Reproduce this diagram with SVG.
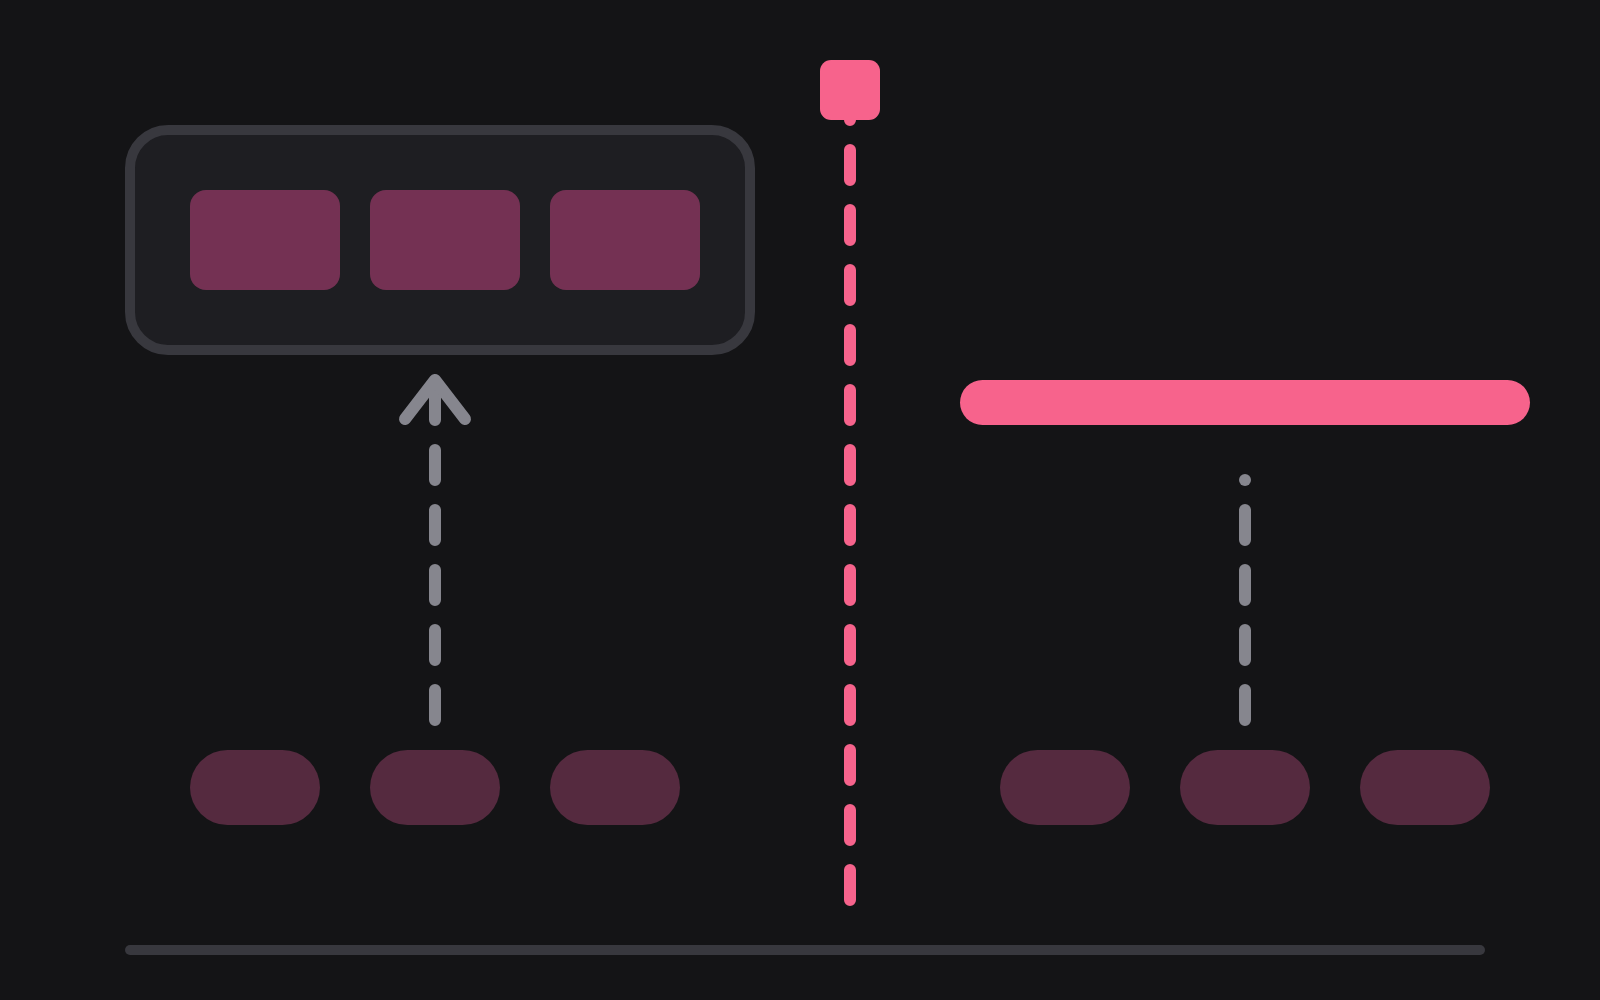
<svg xmlns="http://www.w3.org/2000/svg" width="1600" height="1000" viewBox="0 0 1600 1000">
  <defs>
    <style>
      .container { fill: #1e1e22; stroke: #38383e; stroke-width: 10; }
      .box { fill: #743153; }
      .pill { fill: #552a3f; }
      .pink { fill: #f7638c; }
      .rail { fill: #38383e; }
      .dash-pink { stroke: #f7638c; stroke-width: 12; stroke-linecap: round; stroke-dasharray: 30 30; fill: none; }
      .dash-gray { stroke: #86868e; stroke-width: 12; stroke-linecap: round; stroke-dasharray: 30 30; fill: none; }
      .head { stroke: #86868e; stroke-width: 12; stroke-linecap: round; stroke-linejoin: round; fill: none; }
      .dot { fill: #86868e; }
    </style>
  </defs>
  <rect x="0" y="0" width="1600" height="1000" fill="#141416"/>

  <g id="connectors">
    <line class="dash-pink" x1="850" y1="90" x2="850" y2="900"/>
    <line class="dash-gray" x1="435" y1="720" x2="435" y2="382"/>
    <polyline class="head" points="405,419 435,380 465,419"/>
    <line class="dash-gray" x1="1245" y1="720" x2="1245" y2="480"/>
    <circle class="dot" cx="1245" cy="480" r="6"/>
  </g>

  <g id="container">
    <rect class="container" x="130" y="130" width="620" height="220" rx="38"/>
  </g>
  <g id="box-1"><rect class="box" x="190" y="190" width="150" height="100" rx="16"/></g>
  <g id="box-2"><rect class="box" x="370" y="190" width="150" height="100" rx="16"/></g>
  <g id="box-3"><rect class="box" x="550" y="190" width="150" height="100" rx="16"/></g>

  <g id="marker-top"><rect class="pink" x="820" y="60" width="60" height="60" rx="11"/></g>
  <g id="bar"><rect class="pink" x="960" y="380" width="570" height="45" rx="22.5"/></g>

  <g id="pill-1"><rect class="pill" x="190" y="750" width="130" height="75" rx="37.5"/></g>
  <g id="pill-2"><rect class="pill" x="370" y="750" width="130" height="75" rx="37.5"/></g>
  <g id="pill-3"><rect class="pill" x="550" y="750" width="130" height="75" rx="37.5"/></g>
  <g id="pill-4"><rect class="pill" x="1000" y="750" width="130" height="75" rx="37.5"/></g>
  <g id="pill-5"><rect class="pill" x="1180" y="750" width="130" height="75" rx="37.5"/></g>
  <g id="pill-6"><rect class="pill" x="1360" y="750" width="130" height="75" rx="37.5"/></g>

  <g id="baseline"><rect class="rail" x="125" y="945" width="1360" height="10" rx="5"/></g>
</svg>
